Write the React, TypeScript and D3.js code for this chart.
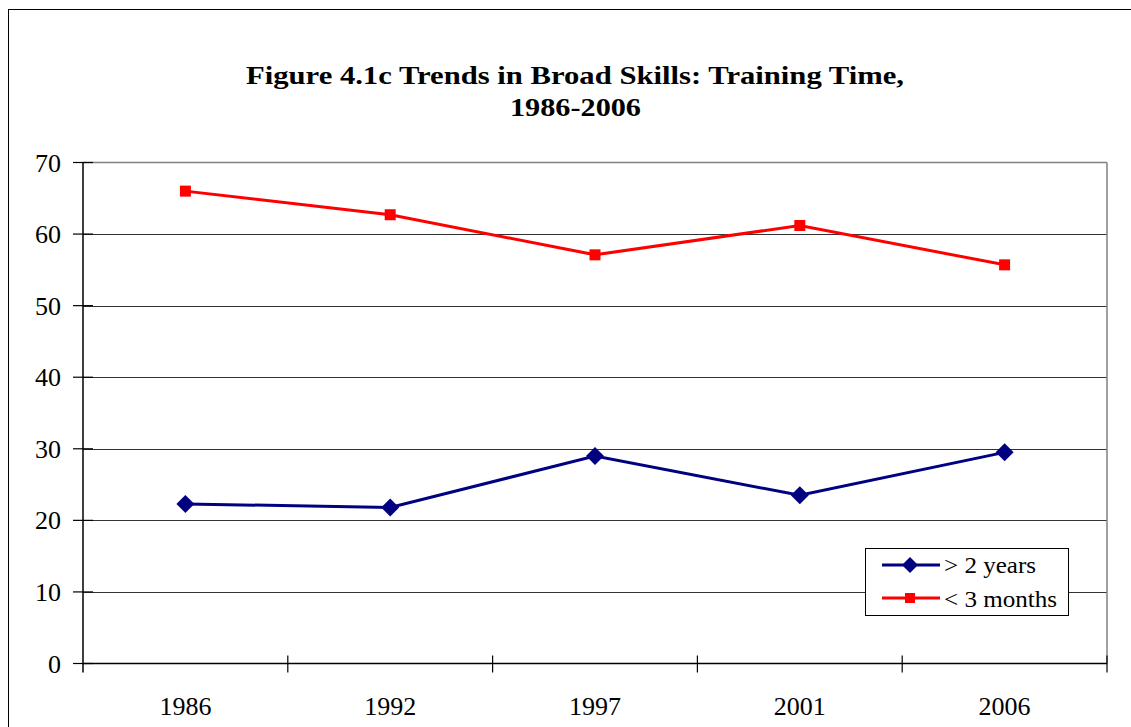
import React from "react";
import * as d3 from "d3";

const years = ["1986", "1992", "1997", "2001", "2006"];
const over2Years = [22.3, 21.8, 29.0, 23.5, 29.5];
const under3Months = [66.0, 62.7, 57.1, 61.2, 55.7];
const yTicks = [0, 10, 20, 30, 40, 50, 60, 70];
const titleLines = ["Figure 4.1c Trends in Broad Skills: Training Time,", "1986-2006"];
const seriesNames = ["> 2 years", "< 3 months"];

const FONT = "Liberation Serif";

export default function App() {
  const W = 1131, H = 727;
  const left = 83, right = 1107, top = 162.5, bottom = 663.5;
  const x = d3.scaleBand().domain(years).range([left, right]).padding(0);
  const y = d3.scaleLinear().domain([0, 70]).range([bottom, top]);
  const cx = (d: string) => (x(d) as number) + x.bandwidth() / 2;
  const line = d3.line<number>().x((_, i) => cx(years[i])).y((v) => y(v));
  const boundaries = years.map((d) => (x(d) as number) + x.bandwidth());
  const diamond = (px: number, py: number, r: number) =>
    `M${px},${py - r}L${px + r},${py}L${px},${py + r}L${px - r},${py}Z`;

  return (
    <svg width={W} height={H} style={{ position: "absolute", left: 0, top: 0, background: "#fff" }}>
      <rect x={0} y={0} width={W} height={H} fill="#fff" />
      <rect x={8.5} y={9.5} width={W + 10} height={H + 10} fill="none" stroke="#000" strokeWidth={1} />
      <text x={575} y={84} textAnchor="middle" style={{ fontFamily: FONT }} fontWeight="bold" fontSize={26}
        textLength={658} lengthAdjust="spacingAndGlyphs" fill="#000">
        {titleLines[0]}
      </text>
      <text x={575.5} y={116} textAnchor="middle" style={{ fontFamily: FONT }} fontWeight="bold" fontSize={26}
        textLength={131} lengthAdjust="spacingAndGlyphs" fill="#000">
        {titleLines[1]}
      </text>
      {yTicks.filter((t) => t > 0 && t < 70).map((t) => (
        <line key={t} x1={left} x2={right} y1={Math.round(y(t)) + 0.5} y2={Math.round(y(t)) + 0.5} stroke="#333" strokeWidth={1} />
      ))}
      <line x1={left} x2={right} y1={top} y2={top} stroke="#808080" strokeWidth={1.5} />
      <line x1={right} x2={right} y1={top} y2={bottom} stroke="#808080" strokeWidth={1.5} />
      <line x1={left} x2={left} y1={top} y2={bottom + 9} stroke="#000" strokeWidth={1.5} />
      <line x1={left} x2={right} y1={bottom} y2={bottom} stroke="#000" strokeWidth={1.5} />
      {yTicks.map((t) => (
        <g key={t}>
          <line x1={left - 10} x2={left + 10} y1={y(t)} y2={y(t)} stroke="#000" strokeWidth={1.2} />
          <text x={61} y={y(t) + 9} textAnchor="end" style={{ fontFamily: FONT }} fontSize={26} fill="#000">
            {t}
          </text>
        </g>
      ))}
      {boundaries.map((b, i) => (
        <line key={i} x1={b} x2={b} y1={bottom - 8} y2={bottom + 9} stroke="#000" strokeWidth={1.2} />
      ))}
      {years.map((d) => (
        <text key={d} x={cx(d)} y={715} textAnchor="middle" style={{ fontFamily: FONT }} fontSize={26} fill="#000">
          {d}
        </text>
      ))}
      <path d={line(under3Months) || ""} fill="none" stroke="#ff0000" strokeWidth={3} />
      {under3Months.map((v, i) => (
        <rect key={i} x={cx(years[i]) - 5.5} y={y(v) - 5.5} width={11} height={11} fill="#ff0000" />
      ))}
      <path d={line(over2Years) || ""} fill="none" stroke="#000080" strokeWidth={3} />
      {over2Years.map((v, i) => (
        <path key={i} d={diamond(cx(years[i]), y(v), 9)} fill="#000080" />
      ))}
      <rect x={865.5} y={548.5} width={203} height={67} fill="#fff" stroke="#000" strokeWidth={1} />
      <line x1={882} x2={940} y1={565} y2={565} stroke="#000080" strokeWidth={3} />
      <path d={diamond(910, 565, 8)} fill="#000080" />
      <text x={944} y={573} style={{ fontFamily: FONT }} fontSize={23} textLength={92} lengthAdjust="spacingAndGlyphs" fill="#000">{seriesNames[0]}</text>
      <line x1={882} x2={940} y1={598} y2={598} stroke="#ff0000" strokeWidth={3} />
      <rect x={905} y={593} width={10} height={10} fill="#ff0000" />
      <text x={944} y={607} style={{ fontFamily: FONT }} fontSize={23} textLength={113} lengthAdjust="spacingAndGlyphs" fill="#000">{seriesNames[1]}</text>
    </svg>
  );
}
